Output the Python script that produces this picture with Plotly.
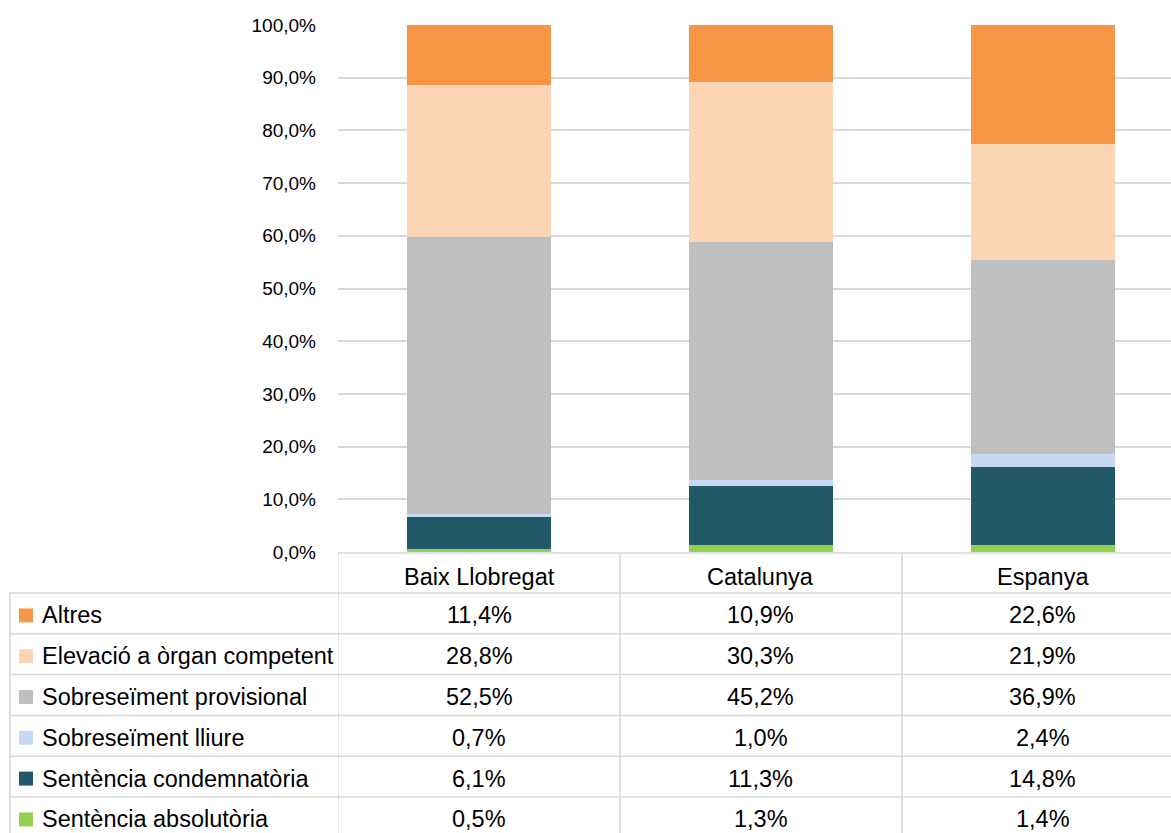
import plotly.graph_objects as go

categories = ["Baix Llobregat", "Catalunya", "Espanya"]

series_names = [
    "Altres",
    "Elevació a òrgan competent",
    "Sobreseïment provisional",
    "Sobreseïment lliure",
    "Sentència condemnatòria",
    "Sentència absolutòria",
]
altres = [11.4, 10.9, 22.6]
elevacio = [28.8, 30.3, 21.9]
sobreseiment_provisional = [52.5, 45.2, 36.9]
sobreseiment_lliure = [0.7, 1.0, 2.4]
sentencia_condemnatoria = [6.1, 11.3, 14.8]
sentencia_absolutoria = [0.5, 1.3, 1.4]

series_values = [altres, elevacio, sobreseiment_provisional,
                 sobreseiment_lliure, sentencia_condemnatoria, sentencia_absolutoria]
colors = ["#F79646", "#FCD5B5", "#BFBFBF", "#C6D9F1", "#215968", "#92D050"]

W, H = 1171, 833
FONT = "Liberation Sans, Arial"
GRID = "#D9D9D9"


def px(x):
    return x / W


def py(y):
    return 1 - y / H


fig = go.Figure()

# stacked bars, bottom series first
for name, vals, col in reversed(list(zip(series_names, series_values, colors))):
    fig.add_trace(go.Bar(
        x=categories,
        y=vals,
        name=name,
        marker=dict(color=col, line=dict(width=0)),
        width=0.51,
        hoverinfo='none',
    ))

shapes = []
annotations = []

# table grid
row_top = 593
row_h = 40.8
shapes.append(dict(type='line', xref='x', yref='paper', x0=-0.5, x1=2.6,
                   y0=py(553), y1=py(553), line=dict(color=GRID, width=1.5)))
for i in range(len(series_names)):
    yl = row_top + i * row_h
    shapes.append(dict(type='line', xref='paper', yref='paper', x0=px(10), x1=1,
                       y0=py(yl), y1=py(yl), line=dict(color=GRID, width=1.5)))
shapes.append(dict(type='line', xref='paper', yref='paper', x0=px(10), x1=px(10),
                   y0=py(row_top), y1=0, line=dict(color=GRID, width=1.5)))
for xb in [-0.5, 0.5, 1.5]:
    shapes.append(dict(type='line', xref='x', yref='paper', x0=xb, x1=xb,
                       y0=py(553), y1=0, line=dict(color=GRID, width=1.5)))

TXT = dict(family=FONT, size=23.5, color='#000000')

# header
for cat in categories:
    annotations.append(dict(x=cat, xref='x', y=py(577), yref='paper', text=cat,
                            showarrow=False, xanchor='center', yanchor='middle',
                            font=TXT))

# rows
for i, (name, vals, col) in enumerate(zip(series_names, series_values, colors)):
    yc = row_top + i * row_h + row_h / 2 + 2
    shapes.append(dict(type='rect', xref='paper', yref='paper',
                       x0=px(19), x1=px(33), y0=py(yc - 7), y1=py(yc + 7),
                       fillcolor=col, line=dict(width=0)))
    annotations.append(dict(x=px(40), xref='paper', y=py(yc), yref='paper', text=name,
                            showarrow=False, xanchor='left', yanchor='middle',
                            font=TXT))
    for cat, v in zip(categories, vals):
        annotations.append(dict(x=cat, xref='x', y=py(yc), yref='paper',
                                text=f"{v:.1f}%".replace('.', ','),
                                showarrow=False, xanchor='center', yanchor='middle',
                                font=TXT))

fig.update_layout(
    width=W, height=H,
    margin=dict(l=0, r=0, t=0, b=0, autoexpand=False),
    barmode='stack',
    showlegend=False,
    plot_bgcolor='white',
    paper_bgcolor='white',
    separators=',.',
    shapes=shapes,
    annotations=annotations,
    xaxis=dict(domain=[px(338), 1], range=[-0.5, 2.454], showticklabels=False,
               showgrid=False, zeroline=False, showline=False, fixedrange=True,
               automargin=False),
    yaxis=dict(domain=[py(552), py(25)], range=[0, 100], dtick=10,
               tickformat='.1f', ticksuffix='%', showgrid=True, gridcolor=GRID,
               gridwidth=1.5, zeroline=False, showline=False, automargin=False,
               ticklabelstandoff=21,
               tickfont=dict(family=FONT, size=19, color='#000000')),
)

fig.write_html("out.html", config={'displayModeBar': False},
               post_script="document.body.style.margin='0';")
